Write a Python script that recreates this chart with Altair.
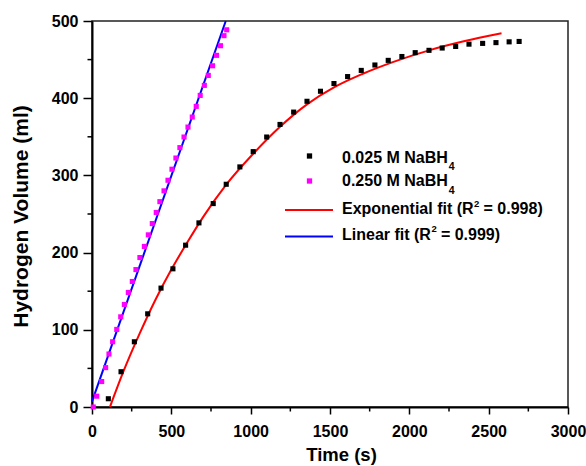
import altair as alt
import pandas as pd

# 0.025 M NaBH4 (black squares)
black_t = [103, 183, 267, 351, 435, 510, 590, 674, 764, 846, 932, 1016, 1101, 1185, 1271, 1355,
           1440, 1525, 1611, 1697, 1783, 1867, 1953, 2037, 2124, 2207, 2292, 2376, 2462, 2546, 2629, 2692]
black_v = [10.7, 45.7, 84.5, 120.7, 154, 179, 209.6, 238.5, 263.5, 288.5, 311, 330.8, 349.7, 366, 382, 396,
           409, 419, 428, 436, 443, 449, 454, 459, 462, 465, 467, 470, 471, 472, 473, 473.5]

# 0.250 M NaBH4 (magenta squares)
mag_t = [8, 30, 61, 86, 107, 130, 156, 181, 204, 229, 254, 277, 302, 330, 355, 380, 405, 428,
         454, 479, 504, 529, 554, 580, 605, 632, 657, 682, 708, 733, 760, 785, 810, 832, 849]
mag_v = [0, 14, 33, 51, 68.6, 84.5, 100.5, 116.8, 132.8, 148.4, 162.6, 178, 193.6, 208, 223, 237.6, 252, 266,
         280, 293.7, 308, 322.5, 336, 349.7, 362.6, 375.6, 389.4, 403.6, 416.6, 429.5, 442, 455.5, 468, 481, 488.6]

# Exponential fit curve
exp_t = [113, 200, 300, 400, 500, 600, 700, 846, 1016, 1185, 1355, 1525, 1700, 1900, 2124, 2350, 2581]
exp_v = [0, 47, 95, 139, 178, 213, 246, 288, 328, 363, 392, 414, 431, 447, 462, 474, 484]

# Linear fit line
lin_t = [0, 843]
lin_v = [7, 500]

x_ticks = [0, 500, 1000, 1500, 2000, 2500, 3000]
x_minor = [250, 750, 1250, 1750, 2250, 2750]
y_ticks = [0, 100, 200, 300, 400, 500]
y_minor = [50, 150, 250, 350, 450]

legend_main = ["0.025 M NaBH", "0.250 M NaBH", "Exponential fit (R", "Linear fit (R"]
legend_sub = ["4", "4"]
legend_sup = ["2", "2"]
legend_tail = ["= 0.998)", "= 0.999)"]

W, H = 476, 386
FONT = "Liberation Sans"

xs = alt.Scale(domain=[0, 3000], nice=False, zero=False)
ys = alt.Scale(domain=[0, 500], nice=False, zero=False)

xaxis = alt.Axis(values=x_ticks, format="d", title="Time (s)", tickSize=7, labelPadding=9,
                 titleX=249, titleY=53, titleBaseline="alphabetic", titleAnchor="start",
                 titleAlign="center", titleFontSize=18.5)
yaxis = alt.Axis(values=y_ticks, format="d", title="Hydrogen Volume (ml)", tickSize=9, labelPadding=5,
                 titleX=-65, titleY=H / 2 + 2, titleAngle=-90, titleBaseline="alphabetic",
                 titleAlign="center", titleFontSize=21)

black_df = pd.DataFrame({"t": black_t, "v": black_v})
mag_df = pd.DataFrame({"t": mag_t, "v": mag_v})
exp_df = pd.DataFrame({"t": exp_t, "v": exp_v})
lin_df = pd.DataFrame({"t": lin_t, "v": lin_v})

red_line = alt.Chart(exp_df).mark_line(color="#ff0000", strokeWidth=2, interpolate="monotone").encode(
    x=alt.X("t:Q", scale=xs, axis=xaxis), y=alt.Y("v:Q", scale=ys, axis=yaxis))
blue_line = alt.Chart(lin_df).mark_line(color="#0000ff", strokeWidth=2).encode(
    x=alt.X("t:Q", scale=xs), y=alt.Y("v:Q", scale=ys))
black_pts = alt.Chart(black_df).mark_square(color="#000000", size=26, opacity=1).encode(
    x=alt.X("t:Q", scale=xs), y=alt.Y("v:Q", scale=ys))
mag_pts = alt.Chart(mag_df).mark_square(color="#ff00ff", size=26, opacity=1).encode(
    x=alt.X("t:Q", scale=xs), y=alt.Y("v:Q", scale=ys))

xminor = alt.Chart(pd.DataFrame({"t": x_minor})).mark_rule(color="black", strokeWidth=1.5).encode(
    x=alt.X("t:Q", scale=xs), y=alt.value(H), y2=alt.value(H + 4.5))
yminor = alt.Chart(pd.DataFrame({"v": y_minor})).mark_rule(color="black", strokeWidth=1.5).encode(
    y=alt.Y("v:Q", scale=ys), x=alt.value(0), x2=alt.value(-4.5))

one = pd.DataFrame({"k": [0]})
LX0 = -92  # offset from plot origin to image left
TY = -21


def px(x):
    return x + LX0


def py(y):
    return y + TY


def txt(s, x, y, size):
    return alt.Chart(one).mark_text(align="left", baseline="alphabetic", font=FONT,
                                    fontSize=size, fontWeight="bold", color="#000000").encode(
        x=alt.value(px(x)), y=alt.value(py(y)), text=alt.value(s))


leg = []
leg.append(alt.Chart(one).mark_square(color="#000000", size=28, opacity=1).encode(
    x=alt.value(px(309.5)), y=alt.value(py(156))))
leg.append(alt.Chart(one).mark_square(color="#ff00ff", size=28, opacity=1).encode(
    x=alt.value(px(309.5)), y=alt.value(py(181))))
leg.append(alt.Chart(one).mark_rule(color="#ff0000", strokeWidth=2).encode(
    x=alt.value(px(285)), x2=alt.value(px(333)), y=alt.value(py(210))))
leg.append(alt.Chart(one).mark_rule(color="#0000ff", strokeWidth=2).encode(
    x=alt.value(px(285)), x2=alt.value(px(333)), y=alt.value(py(236.5))))

base_y = [162.7, 186, 214, 239.5]
for lab, yb in zip(legend_main, base_y):
    leg.append(txt(lab, 342, yb, 16))
# subscripts "4" after NaBH (text width 6.613 em at 16 px)
for s, yb in zip(legend_sub, base_y[:2]):
    leg.append(txt(s, 342 + 6.613 * 16 + 1, yb + 7.5, 10.5))
# superscripts "2" and tails
sup_x = [342 + 8.223 * 16, 342 + 5.556 * 16]
for s, tail, yb, sx in zip(legend_sup, legend_tail, base_y[2:], sup_x):
    leg.append(txt(s, sx + 0.5, yb - 7.3, 9.5))
    leg.append(txt(tail, sx + 10, yb, 16))

chart = alt.layer(red_line, blue_line, black_pts, mag_pts, xminor, yminor, *leg).properties(
    width=W, height=H,
    autosize=alt.AutoSizeParams(type="none"),
    padding={"left": 92, "top": 21, "right": 18, "bottom": 59},
    background="white",
).configure_view(stroke="#222222", strokeWidth=1.5).configure_axis(
    domainColor="black", domainWidth=2, tickColor="black", tickWidth=1.5,
    labelFont=FONT, labelFontSize=16, labelFontWeight="bold", labelColor="black",
    titleFont=FONT, titleFontWeight="bold", titleColor="black", grid=False,
    labelFlush=False, labelOverlap=False,
)

chart.save("out.html", embed_options={"renderer": "svg", "actions": False})
